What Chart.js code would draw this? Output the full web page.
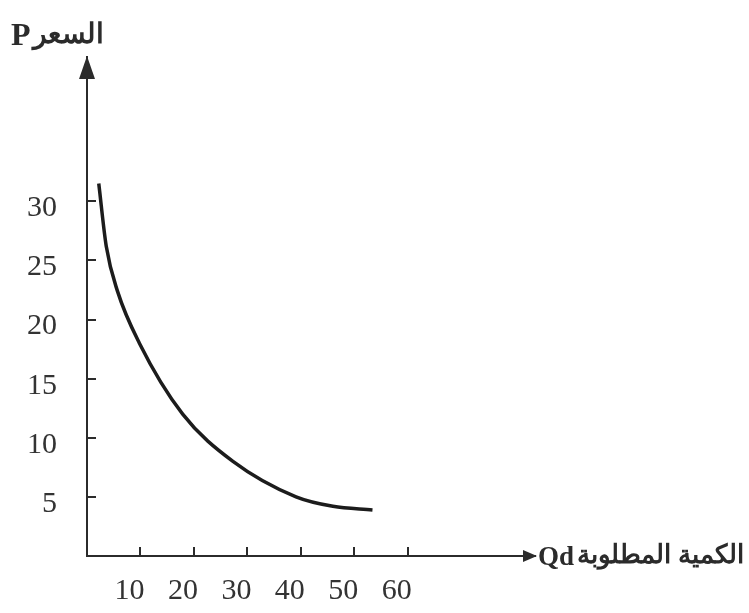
<!DOCTYPE html>
<html>
<head>
<meta charset="utf-8">
<script src="https://cdn.jsdelivr.net/npm/chart.js@4"></script>
<style>
  html, body { margin: 0; padding: 0; background: #fff; }
</style>
</head>
<body>
<canvas id="demand" width="749" height="613"></canvas>
<script>
// demand curve
const qd    = [2.2, 3.6, 5.7, 9.8, 17.9, 27.3, 39.1, 46.0, 53.4];
const price = [31.5, 26.2, 22.4, 18.0, 12.0, 8.0, 5.0, 4.2, 3.9];

// tick labels
const xTicks = [10, 20, 30, 40, 50, 60];
const yTicks = [5, 10, 15, 20, 25, 30];

// axis titles
const yTitle = 'السعر';
const xTitle = 'الكمية المطلوبة';

const ink = '#2b2b2b';
const serif = "'Liberation Serif', 'Times New Roman', serif";

// arrows + axis titles
const axisDecor = {
  id: 'axisDecor',
  afterDraw(chart) {
    const { ctx, chartArea: a } = chart;
    ctx.save();
    ctx.fillStyle = ink;

    // up arrow on the price axis
    ctx.beginPath();
    ctx.moveTo(a.left - 8, a.top + 22);
    ctx.lineTo(a.left, a.top - 1);
    ctx.lineTo(a.left + 8, a.top + 22);
    ctx.closePath();
    ctx.fill();

    // right arrow on the quantity axis
    ctx.beginPath();
    ctx.moveTo(a.right - 12, a.bottom - 6);
    ctx.lineTo(a.right + 2, a.bottom);
    ctx.lineTo(a.right - 12, a.bottom + 6);
    ctx.closePath();
    ctx.fill();

    ctx.textBaseline = 'alphabetic';
    ctx.textAlign = 'left';

    // "P السعر"
    ctx.font = 'bold 32px ' + serif;
    ctx.fillText('P', 11, 45);
    ctx.font = 'bold 28px ' + serif;
    ctx.fillText(yTitle, 33, 43);

    // "Qd الكمية المطلوبة"
    ctx.font = 'bold 27px ' + serif;
    ctx.fillText('Qd', a.right + 3, a.bottom + 9);
    ctx.font = 'bold 26px ' + serif;
    ctx.fillText(xTitle, a.right + 42, a.bottom + 7);
    ctx.restore();
  }
};

new Chart(document.getElementById('demand').getContext('2d'), {
  type: 'line',
  data: {
    datasets: [{
      data: qd.map((q, i) => ({ x: q, y: price[i] })),
      borderColor: '#1c1c1c',
      borderWidth: 3.5,
      pointRadius: 0,
      fill: false,
      cubicInterpolationMode: 'monotone'
    }]
  },
  options: {
    responsive: false,
    animation: false,
    layout: { padding: { top: 57, right: 214, left: 0, bottom: 0 } },
    plugins: { legend: { display: false }, tooltip: { enabled: false } },
    scales: {
      x: {
        type: 'linear',
        min: 0,
        max: 83.8,
        afterBuildTicks: s => { s.ticks = xTicks.map(v => ({ value: v })); },
        afterFit: s => { s.height = 57; },
        border: { display: true, color: ink, width: 2 },
        grid: { drawOnChartArea: false, drawTicks: true, tickLength: -9, color: ink, lineWidth: 2 },
        ticks: {
          autoSkip: false,
          maxRotation: 0,
          padding: 26,
          labelOffset: -11,
          color: '#333',
          font: { family: serif, size: 30 }
        }
      },
      y: {
        min: 0,
        max: 42.2,
        afterBuildTicks: s => { s.ticks = yTicks.map(v => ({ value: v })); },
        afterFit: s => { s.width = 87; },
        border: { display: true, color: ink, width: 2 },
        grid: { drawOnChartArea: false, drawTicks: true, tickLength: -9, color: ink, lineWidth: 2 },
        ticks: {
          autoSkip: false,
          padding: 39,
          labelOffset: 7,
          color: '#333',
          font: { family: serif, size: 30 }
        }
      }
    }
  },
  plugins: [axisDecor]
});
</script>
</body>
</html>
